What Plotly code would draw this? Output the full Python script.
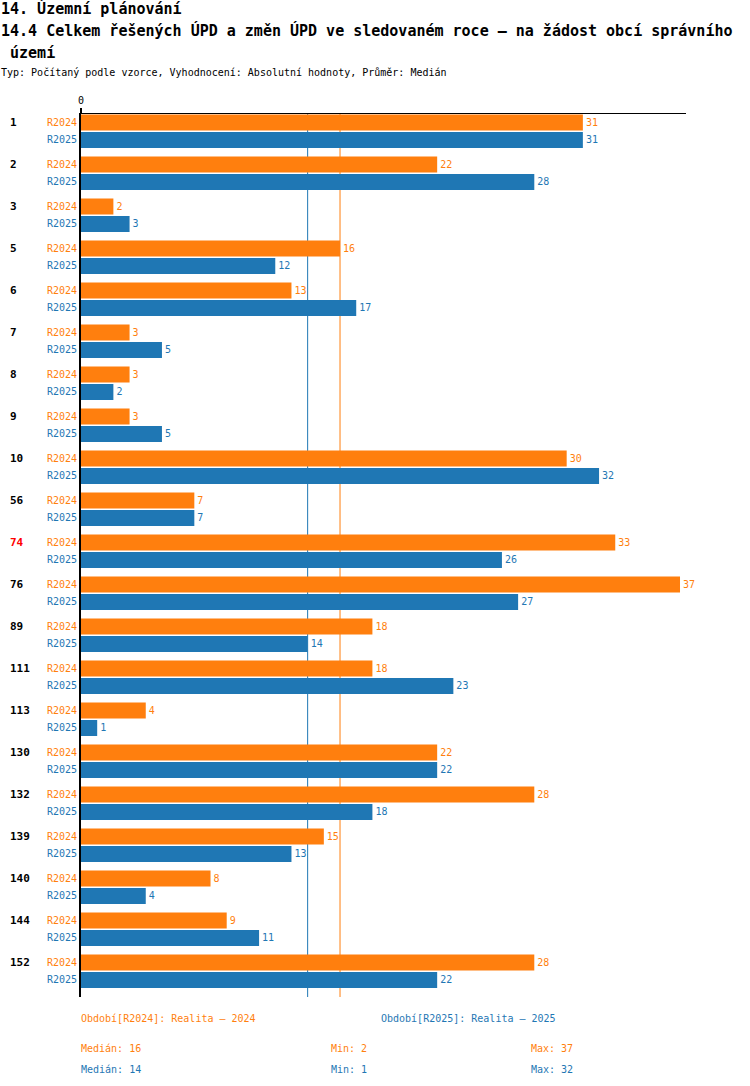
import numpy as np
import plotly.graph_objects as go

categories = ["1", "2", "3", "5", "6", "7", "8", "9", "10", "56", "74", "76",
              "89", "111", "113", "130", "132", "139", "140", "144", "152"]
r2024 = [31, 22, 2, 16, 13, 3, 3, 3, 30, 7, 33, 37, 18, 18, 4, 22, 28, 15, 8, 9, 28]
r2025 = [31, 28, 3, 12, 17, 5, 2, 5, 32, 7, 26, 27, 14, 23, 1, 22, 18, 13, 4, 11, 22]
series_names = ["R2024", "R2025"]
series_desc = ["Období[R2024]: Realita – 2024", "Období[R2025]: Realita – 2025"]
highlight = ["74"]

title1 = "14. Územní plánování"
title2 = "14.4 Celkem řešených ÚPD a změn ÚPD ve sledovaném roce – na žádost obcí správního"
title3 = " území"
subtitle = "Typ: Počítaný podle vzorce, Vyhodnocení: Absolutní hodnoty, Průměr: Medián"

ORANGE = "#ff7f0e"
BLUE = "#1f77b4"
colors = [ORANGE, BLUE]
MONO = "DejaVu Sans Mono"

W, H = 750, 1086
L, R, T, B = 81, 64, 114, 89
pw = W - L - R
ph = H - T - B

n = len(categories)
idx = np.arange(n)
off = 0.208
offsets = [-off, off]
bw = 0.381

fig = go.Figure()
for k, vals in enumerate([r2024, r2025]):
    fig.add_trace(go.Bar(
        x=vals, y=idx + offsets[k], orientation="h", width=bw,
        marker=dict(color=colors[k], line=dict(width=0)),
        text=[str(v) for v in vals], textposition="outside",
        textangle=0, constraintext="none", cliponaxis=False,
        textfont=dict(family=MONO, size=10, color=colors[k]),
        hoverinfo="skip", name=series_names[k],
    ))

annotations = []
def px_x(p):
    return (p - L) / pw
def px_y(p):
    return (H - B - p) / ph

# category labels and series sub-labels
for i, c in enumerate(categories):
    col = "#ff0000" if c in highlight else "#000000"
    annotations.append(dict(
        x=px_x(8), xref="paper", y=i + offsets[0], yref="y",
        text="<b>" + c + "</b>", showarrow=False, xanchor="left", yanchor="middle",
        font=dict(family=MONO, size=11, color=col)))
    for k in range(2):
        annotations.append(dict(
            x=px_x(79), xref="paper", y=i + offsets[k], yref="y",
            text=series_names[k], showarrow=False, xanchor="right", yanchor="middle",
            font=dict(family=MONO, size=10, color=colors[k])))

# titles
annotations += [
    dict(x=px_x(-1), xref="paper", y=px_y(8), yref="paper", text="<b>" + title1 + "</b>",
         showarrow=False, xanchor="left", yanchor="middle", font=dict(family=MONO, size=15, color="#000")),
    dict(x=px_x(-1), xref="paper", y=px_y(31), yref="paper", text="<b>" + title2 + "</b>",
         showarrow=False, xanchor="left", yanchor="middle", font=dict(family=MONO, size=15, color="#000")),
    dict(x=px_x(-1), xref="paper", y=px_y(53), yref="paper", text="<b>" + title3.replace(" ", "&nbsp;") + "</b>",
         showarrow=False, xanchor="left", yanchor="middle", font=dict(family=MONO, size=15, color="#000")),
    dict(x=px_x(-1), xref="paper", y=px_y(73), yref="paper", text=subtitle,
         showarrow=False, xanchor="left", yanchor="middle", font=dict(family=MONO, size=10, color="#000")),
]

# footer
data = [r2024, r2025]
desc_x = [79, 379]
for k in range(2):
    annotations.append(dict(
        x=px_x(desc_x[k]), xref="paper", y=px_y(1018), yref="paper", text=series_desc[k],
        showarrow=False, xanchor="left", yanchor="middle", font=dict(family=MONO, size=10, color=colors[k])))
    row_y = [1048, 1069][k]
    med = np.median(data[k])
    stats = [("Medián: %g" % med, 79), ("Min: %d" % min(data[k]), 329), ("Max: %d" % max(data[k]), 529)]
    for txt, xx in stats:
        annotations.append(dict(
            x=px_x(xx), xref="paper", y=px_y(row_y), yref="paper", text=txt,
            showarrow=False, xanchor="left", yanchor="middle", font=dict(family=MONO, size=10, color=colors[k])))

shapes = []
for k in range(2):
    med = float(np.median(data[k]))
    shapes.append(dict(type="line", xref="x", yref="paper", x0=med, x1=med, y0=0, y1=1,
                       line=dict(color=colors[k], width=1), layer="below"))

fig.update_layout(
    width=W, height=H,
    margin=dict(l=L, r=R, t=T, b=B, pad=0),
    paper_bgcolor="white", plot_bgcolor="white",
    showlegend=False, barmode="overlay",
    annotations=annotations, shapes=shapes,
    xaxis=dict(side="top", range=[0, 37.37], showgrid=False, zeroline=False,
               showline=True, linecolor="black", linewidth=1,
               tickvals=[0], ticktext=["0"], ticks="outside", ticklen=5, tickwidth=2, tickcolor="black",
               tickfont=dict(family=MONO, size=10, color="#000")),
    yaxis=dict(range=[20.613, -0.41], showgrid=False, zeroline=False, showticklabels=False,
               showline=True, linecolor="black", linewidth=2, ticks=""),
)

fig.write_html("out.html", config={"displayModeBar": False},
               post_script="document.body.style.margin='0';document.body.style.overflow='hidden';")
